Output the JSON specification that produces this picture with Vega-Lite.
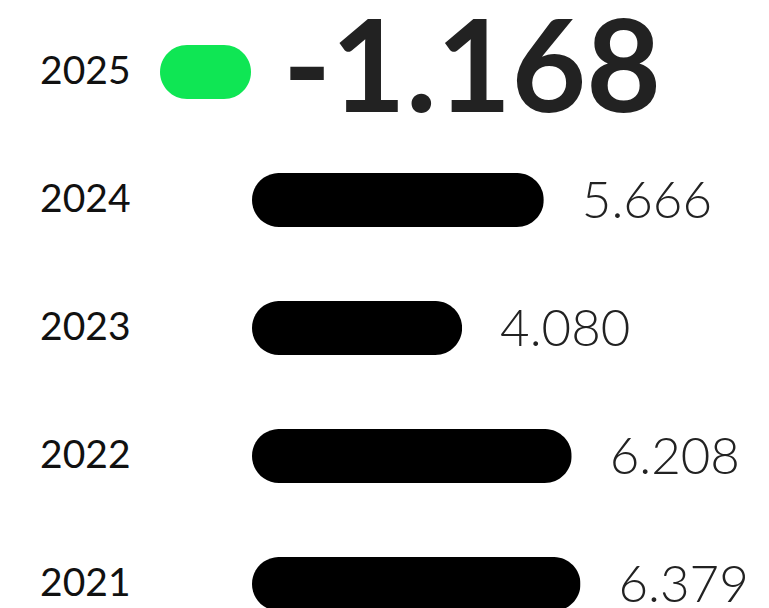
{
  "$schema": "https://vega.github.io/schema/vega-lite/v6.json",
  "width": 515,
  "height": 640,
  "padding": {"left": 39, "top": 8, "right": 0, "bottom": 0},
  "background": "white",
  "config": {"view": {"stroke": null}, "font": "Lato"},
  "data": {
    "values": [
      {"year": "2025", "value": -1.168, "label": "-1.168"},
      {"year": "2024", "value": 5.666, "label": "5.666"},
      {"year": "2023", "value": 4.080, "label": "4.080"},
      {"year": "2022", "value": 6.208, "label": "6.208"},
      {"year": "2021", "value": 6.379, "label": "6.379"}
    ]
  },
  "encoding": {
    "y": {
      "field": "year",
      "type": "ordinal",
      "sort": "descending",
      "scale": {"paddingInner": 0.578, "paddingOuter": 0.289},
      "axis": {
        "title": null,
        "domain": false,
        "ticks": false,
        "labelPadding": 122,
        "labelFontSize": 39,
        "labelFont": "Lato",
        "labelColor": "#111111",
        "labelFontWeight": "normal"
      }
    }
  },
  "layer": [
    {
      "transform": [{"filter": "datum.value >= 0"}],
      "mark": {"type": "bar", "cornerRadius": 27, "color": "#000000"},
      "encoding": {
        "x": {"field": "value", "type": "quantitative", "scale": {"domain": [0, 10]}, "axis": null}
      }
    },
    {
      "transform": [{"filter": "datum.value >= 0"}],
      "mark": {"type": "text", "align": "left", "baseline": "alphabetic", "dx": 38, "dy": 18, "fontSize": 51, "fontWeight": 300, "color": "#222222"},
      "encoding": {
        "x": {"field": "value", "type": "quantitative", "axis": null},
        "text": {"field": "label", "type": "nominal"}
      }
    },
    {
      "transform": [{"filter": "datum.value < 0"}],
      "mark": {
        "type": "point",
        "shape": "M-0.4066,-0.5934L0.4066,-0.5934A0.5934,0.5934,0,0,1,0.4066,0.5934L-0.4066,0.5934A0.5934,0.5934,0,0,1,-0.4066,-0.5934Z",
        "size": 8281,
        "filled": true,
        "strokeWidth": 0,
        "color": "#0fe654",
        "opacity": 1,
        "xOffset": -46.5
      },
      "encoding": {
        "x": {"datum": 0, "type": "quantitative", "axis": null}
      }
    },
    {
      "transform": [{"filter": "datum.value < 0"}],
      "mark": {"type": "text", "align": "left", "baseline": "alphabetic", "dx": 31, "dy": 40, "fontSize": 129, "fontWeight": "bold", "color": "#222222"},
      "encoding": {
        "x": {"datum": 0, "type": "quantitative", "axis": null},
        "text": {"field": "label", "type": "nominal"}
      }
    }
  ]
}
